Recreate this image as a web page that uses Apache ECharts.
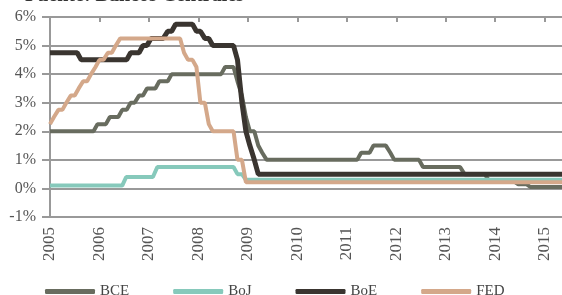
<!DOCTYPE html>
<html>
<head>
<meta charset="utf-8">
<style>
    html, body { margin: 0; padding: 0; background: #fff; }
    #chart { width: 562px; height: 295px; }
</style>
<script src="https://cdn.jsdelivr.net/npm/echarts@6/dist/echarts.min.js"></script>
</head>
<body>
<div id="chart"></div>
<script>
// años del eje x y marcas del eje y
var years = [2005, 2006, 2007, 2008, 2009, 2010, 2011, 2012, 2013, 2014, 2015];
var yTicks = [-1, 0, 1, 2, 3, 4, 5, 6];

// tipos oficiales, [año, %]
var bce = [[2005.0, 2.0], [2005.88, 2.0], [2005.96, 2.25], [2006.13, 2.25], [2006.21, 2.5], [2006.38, 2.5],
    [2006.46, 2.75], [2006.55, 2.75], [2006.63, 3.0], [2006.71, 3.0], [2006.8, 3.25], [2006.88, 3.25],
    [2006.96, 3.5], [2007.13, 3.5], [2007.21, 3.75], [2007.38, 3.75], [2007.46, 4.0], [2008.46, 4.0],
    [2008.54, 4.25], [2008.71, 4.25], [2008.79, 3.75], [2008.88, 3.25], [2008.96, 2.5], [2009.04, 2.0],
    [2009.13, 2.0], [2009.21, 1.5], [2009.29, 1.25], [2009.38, 1.0], [2011.21, 1.0], [2011.29, 1.25],
    [2011.46, 1.25], [2011.54, 1.5], [2011.79, 1.5], [2011.88, 1.25], [2011.96, 1.0], [2012.46, 1.0],
    [2012.54, 0.75], [2013.29, 0.75], [2013.38, 0.5], [2013.79, 0.5], [2013.88, 0.25], [2014.38, 0.25],
    [2014.46, 0.15], [2014.63, 0.15], [2014.71, 0.05], [2015.35, 0.05]];
var boj = [[2005.0, 0.1], [2006.46, 0.1], [2006.54, 0.4], [2007.08, 0.4], [2007.17, 0.75], [2008.71, 0.75],
    [2008.79, 0.5], [2008.88, 0.5], [2008.96, 0.3], [2015.35, 0.3]];
var boe = [[2005.0, 4.75], [2005.55, 4.75], [2005.63, 4.5], [2006.55, 4.5], [2006.63, 4.75], [2006.8, 4.75],
    [2006.88, 5.0], [2006.96, 5.0], [2007.04, 5.25], [2007.29, 5.25], [2007.38, 5.5], [2007.46, 5.5],
    [2007.54, 5.75], [2007.88, 5.75], [2007.96, 5.5], [2008.04, 5.5], [2008.13, 5.25], [2008.21, 5.25],
    [2008.29, 5.0], [2008.71, 5.0], [2008.79, 4.5], [2008.88, 3.0], [2008.96, 2.0], [2009.04, 1.5],
    [2009.13, 1.0], [2009.21, 0.5], [2015.35, 0.5]];
var fed = [[2005.0, 2.25], [2005.08, 2.5], [2005.17, 2.75], [2005.25, 2.75], [2005.33, 3.0], [2005.42, 3.25],
    [2005.5, 3.25], [2005.58, 3.5], [2005.67, 3.75], [2005.75, 3.75], [2005.83, 4.0], [2005.92, 4.25],
    [2006.0, 4.5], [2006.08, 4.5], [2006.17, 4.75], [2006.25, 4.75], [2006.33, 5.0], [2006.42, 5.25],
    [2007.63, 5.25], [2007.71, 4.75], [2007.79, 4.5], [2007.88, 4.5], [2007.96, 4.25], [2008.04, 3.0],
    [2008.13, 3.0], [2008.21, 2.25], [2008.29, 2.0], [2008.71, 2.0], [2008.79, 1.0], [2008.88, 1.0],
    [2008.96, 0.22], [2015.35, 0.22]];

(function () {
    'use strict';
    var myChart = echarts.init(document.getElementById('chart'));
    var serif = '"Liberation Serif", "DejaVu Serif", serif';
    var gray = '#999';

    function line(name, data, color, width) {
        return {
            name: name,
            type: 'line',
            data: data,
            xAxisIndex: 0,
            showSymbol: false,
            symbol: 'none',
            lineStyle: { color: color, width: width },
            itemStyle: { color: color }
        };
    }

    var option = {
        animation: false,
        title: {
            text: 'Fuente: Bancos Centrales',
            left: 20,
            top: -19,
            textStyle: { fontFamily: serif, fontSize: 20, fontWeight: 'bold', color: '#333' }
        },
        grid: { left: 50, right: 0, top: 17, bottom: 78 },
        legend: {
            top: 279,
            left: 40,
            icon: 'roundRect',
            itemWidth: 50,
            itemHeight: 5,
            itemGap: 44,
            textStyle: { fontFamily: serif, fontSize: 15, color: '#444' },
            data: ['BCE', 'BoJ', 'BoE', 'FED']
        },
        xAxis: [{
            type: 'value',
            position: 'bottom',
            min: 2005,
            max: 2015.35,
            interval: 1,
            axisLine: { show: false },
            axisTick: { show: false },
            splitLine: { show: false },
            axisLabel: {
                rotate: 90,
                margin: 10,
                customValues: years,
                fontFamily: serif,
                fontSize: 17,
                color: '#555',
                formatter: function (v) { return String(v); }
            }
        }, {
            // eje con marcas sobre el 0%
            type: 'value',
            position: 'top',
            min: 2005,
            max: 2015.35,
            interval: 1,
            axisLine: { show: true, onZero: true, lineStyle: { color: gray, width: 2 } },
            axisTick: { show: true, inside: true, length: 5, customValues: years, lineStyle: { color: gray, width: 2 } },
            axisLabel: { show: false },
            splitLine: { show: false }
        }],
        yAxis: {
            type: 'value',
            min: -1,
            max: 6,
            interval: 1,
            axisLine: { show: true, lineStyle: { color: gray, width: 2 } },
            axisTick: { show: true, length: 8, lineStyle: { color: gray, width: 2 } },
            splitLine: { show: true, lineStyle: { color: gray, width: 2 } },
            axisLabel: {
                margin: 14,
                fontFamily: serif,
                fontSize: 16,
                color: '#555',
                formatter: function (v) { return yTicks.indexOf(v) >= 0 ? v + '%' : ''; }
            }
        },
        series: [
            line('BCE', bce, '#686c5f', 4),
            line('BoJ', boj, '#86c9bb', 4),
            line('BoE', boe, '#3a3530', 5),
            line('FED', fed, '#d4a88a', 4)
        ]
    };
    myChart.setOption(option);
    window.addEventListener('resize', function () {
        myChart.resize();
    });
})();
</script>
</body>
</html>
